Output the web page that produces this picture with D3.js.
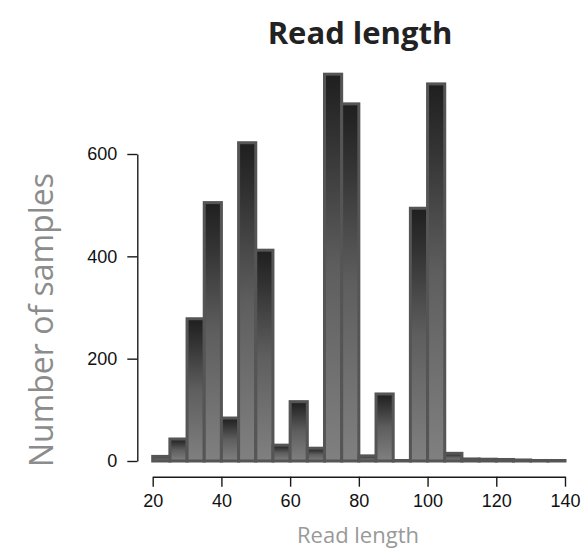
<!DOCTYPE html>
<html>
<head>
<meta charset="utf-8">
<script src="https://cdn.jsdelivr.net/npm/d3@7"></script>
<style>
  html, body { margin: 0; padding: 0; background: #fff; }
  svg { display: block; }
</style>
</head>
<body>
<svg id="chart" width="582" height="552"></svg>
<script>
// Histogram of read lengths, 5-unit bins from 20 to 140
const binStarts = [20, 25, 30, 35, 40, 45, 50, 55, 60, 65, 70, 75, 80, 85, 90, 95, 100, 105, 110, 115, 120, 125, 130, 135];
const binWidth = 5;
const counts = [9, 43, 278, 505, 84, 622, 412, 31, 116, 25, 756, 698, 10, 131, 1, 494, 737, 15, 4, 3.5, 3, 2, 1, 1];
const xTicks = [20, 40, 60, 80, 100, 120, 140];
const yTicks = [0, 200, 400, 600];

const svg = d3.select("#chart");

const x = d3.scaleLinear().domain([20, 140]).range([152.7, 565]);
const y = d3.scaleLinear().domain([0, 600]).range([461, 154]);

// vertical shading used by every bar
const defs = svg.append("defs");
const grad = defs.append("linearGradient")
  .attr("id", "barFill")
  .attr("x1", 0).attr("y1", 0).attr("x2", 0).attr("y2", 1);
[[0, "#1f1f1f"], [0.18, "#343434"], [0.5, "#5e5e5e"], [1, "#808080"]].forEach(([o, c]) =>
  grad.append("stop").attr("offset", o).attr("stop-color", c));

const bins = binStarts.map((s, i) => ({ x0: s, x1: s + binWidth, n: counts[i] }));

svg.append("g")
  .selectAll("rect")
  .data(bins)
  .join("rect")
  .attr("x", d => x(d.x0))
  .attr("width", d => x(d.x1) - x(d.x0))
  .attr("y", d => y(d.n))
  .attr("height", d => y(0) - y(d.n))
  .attr("fill", "url(#barFill)")
  .attr("stroke", "#555")
  .attr("stroke-width", 3)
  .attr("stroke-linejoin", "miter");

// axes in the detached style: y axis to the left, x axis below the bars
const tickFont = "'Liberation Sans', Arial, Helvetica, sans-serif";

const yAxis = svg.append("g")
  .attr("transform", "translate(137.3,0)")
  .call(d3.axisLeft(y).tickValues(yTicks).tickSize(10).tickPadding(10).tickSizeOuter(0));

const xAxis = svg.append("g")
  .attr("transform", "translate(0,476.7)")
  .call(d3.axisBottom(x).tickValues(xTicks).tickSize(10).tickPadding(8).tickSizeOuter(0));

[yAxis, xAxis].forEach(g => {
  g.selectAll("path.domain").attr("stroke", "#1a1a1a").attr("stroke-width", 1.4);
  g.selectAll(".tick line").attr("stroke", "#1a1a1a").attr("stroke-width", 1.4);
  g.selectAll(".tick text")
    .attr("fill", "#111")
    .style("font-family", tickFont)
    .style("font-size", "18px");
});

// titles
const labelFont = "'Open Sans', 'Noto Sans', sans-serif";

svg.append("text")
  .attr("x", 360).attr("y", 44)
  .attr("text-anchor", "middle")
  .attr("fill", "#222")
  .style("font-family", labelFont)
  .style("font-weight", "bold")
  .style("font-size", "31px")
  .text("Read length");

svg.append("text")
  .attr("transform", "translate(53,320) rotate(-90)")
  .attr("text-anchor", "middle")
  .attr("fill", "#8c8c8c")
  .style("font-family", labelFont)
  .style("font-size", "32px")
  .text("Number of samples");

svg.append("text")
  .attr("x", 358).attr("y", 543)
  .attr("text-anchor", "middle")
  .attr("fill", "#999")
  .style("font-family", labelFont)
  .style("font-size", "22px")
  .text("Read length");
</script>
</body>
</html>
